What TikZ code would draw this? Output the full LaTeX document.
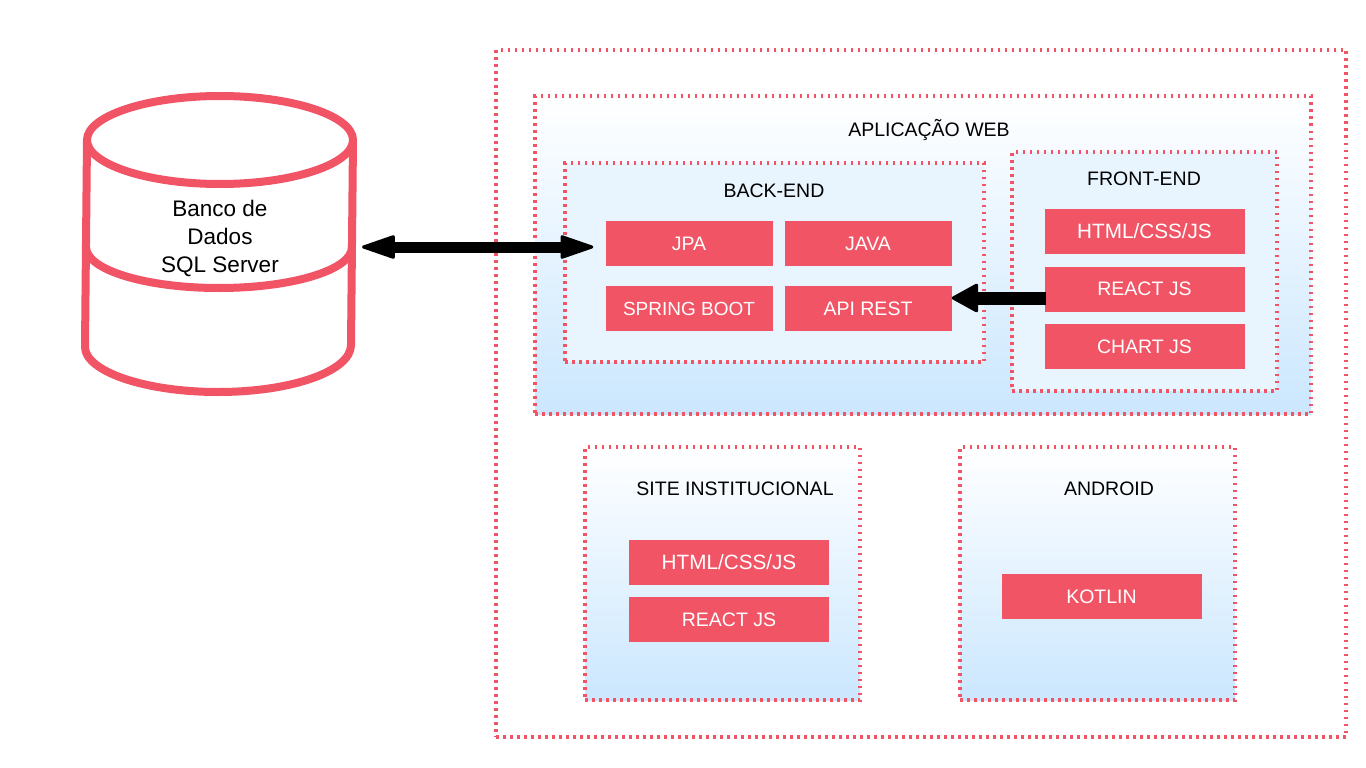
\documentclass[tikz,border=0pt]{standalone}
\usepackage{fontspec}
\setmainfont{Liberation Sans}
\usetikzlibrary{arrows.meta}
\definecolor{redbox}{HTML}{F15465}
\definecolor{paleblue}{HTML}{E8F4FE}
\definecolor{midblue}{HTML}{F1F8FF}
\definecolor{deepblue}{HTML}{CBE7FE}
\tikzset{
  x=1pt,y=-1pt,
  label text/.style={font=\fontsize{19.5}{23}\selectfont,text=black,inner sep=0pt,anchor=center,yshift=-0.8pt},
  dotted frame/.style={draw=redbox,line width=4pt,dash pattern=on 2.5pt off 4.5pt,inner sep=0pt,anchor=center},
  plain frame/.style={dotted frame},
  fade frame/.style={dotted frame,top color=white,middle color=midblue,bottom color=deepblue},
  pale frame/.style={dotted frame,fill=paleblue},
  tech/.style={fill=redbox,text=white,font=\fontsize{19.5}{23}\selectfont,inner sep=0pt,anchor=center,minimum width=167pt,minimum height=45pt},
  wide tech/.style={tech,minimum width=200pt},
  db line/.style={draw=redbox,line width=8pt,line join=round},
  link/.style={draw=black,line width=11pt},
  bigtip/.tip={Triangle[length=36pt,width=24pt,round,line width=3pt]},
  broadtip/.tip={Triangle[length=28pt,width=30pt,round,line width=3pt]},
}
\begin{document}
\begin{tikzpicture}
\useasboundingbox (0,0) rectangle (1366,768);
\fill[white] (0,0) rectangle (1366,768);
% frames
\node[plain frame,minimum width=850pt,minimum height=687pt] (outer) at (921,393.5) {};
\node[fade frame,minimum width=776pt,minimum height=318pt] (app) at (923,255) {};
\node[pale frame,minimum width=419pt,minimum height=199pt] (back) at (774.5,262.5) {};
\node[pale frame,minimum width=265pt,minimum height=239pt] (front) at (1144.5,271.5) {};
\node[fade frame,minimum width=275pt,minimum height=253pt] (site) at (722.5,573.5) {};
\node[fade frame,minimum width=275pt,minimum height=253pt] (android) at (1097.5,573.5) {};
% titles
\node[label text] (tapp) at (929,129) {APLICAÇÃO WEB};
\node[label text] (tback) at (774,190) {BACK-END};
\node[label text] (tfront) at (1144,178) {FRONT-END};
\node[label text] (tsite) at (735,488) {SITE INSTITUCIONAL};
\node[label text] (tandroid) at (1109,488) {ANDROID};
% tech boxes
\node[tech] (jpa) at (689,243.5) {\raisebox{-0.8pt}{JPA}};
\node[tech] (java) at (868,243.5) {\raisebox{-0.8pt}{JAVA}};
\node[tech,font=\fontsize{19}{23}\selectfont] (spring) at (689,308.5) {\raisebox{-0.8pt}{SPRING BOOT}};
\node[tech] (api) at (868,308.5) {\raisebox{-0.8pt}{API REST}};
\node[wide tech,font=\fontsize{20.7}{23}\selectfont] (html) at (1144.5,231.5) {\raisebox{-0.8pt}{HTML/CSS/JS}};
\node[wide tech] (react) at (1144.5,289) {\raisebox{-0.8pt}{REACT JS}};
\node[wide tech] (chart) at (1144.5,346.5) {\raisebox{-0.8pt}{CHART JS}};
\node[wide tech,font=\fontsize{20.7}{23}\selectfont] (shtml) at (729,562) {\raisebox{-0.8pt}{HTML/CSS/JS}};
\node[wide tech] (sreact) at (729,619.5) {\raisebox{-0.8pt}{REACT JS}};
\node[wide tech] (kotlin) at (1101.5,596.5) {\raisebox{-0.8pt}{KOTLIN}};
% database
\draw[db line,fill=white] (85,347) -- (87,140) -- (353,140) -- (351,345)
  .. controls (351,371) and (292,392) .. (218,392)
  .. controls (144,392) and (85,371) .. (85,347) -- cycle;
\draw[db line,fill=white] (87,140) .. controls (87,116) and (147,96) .. (220,96)
  .. controls (293,96) and (353,116) .. (353,140)
  .. controls (353,164) and (293,184) .. (220,184)
  .. controls (147,184) and (87,164) .. (87,140) -- cycle;
\draw[db line] (86,247) .. controls (86,270) and (146,288) .. (219,288)
  .. controls (292,288) and (352,270) .. (352,247);
\node[label text,align=center,font=\fontsize{22.5}{28}\selectfont,yshift=-1pt] (db) at (220,237) {Banco de\\Dados\\SQL Server};
% connectors
\coordinate (dbport) at (362,247);
\coordinate (jpaport) at (jpa.west |- dbport);
\coordinate (reactport) at (1046,298);
\coordinate (apiport) at (api.east |- reactport);
\draw[link,{bigtip}-{bigtip},shorten >=12pt] (dbport) -- (jpaport);
\draw[link,-{broadtip},line width=13pt] (reactport) -- (apiport);
\end{tikzpicture}
\end{document}
